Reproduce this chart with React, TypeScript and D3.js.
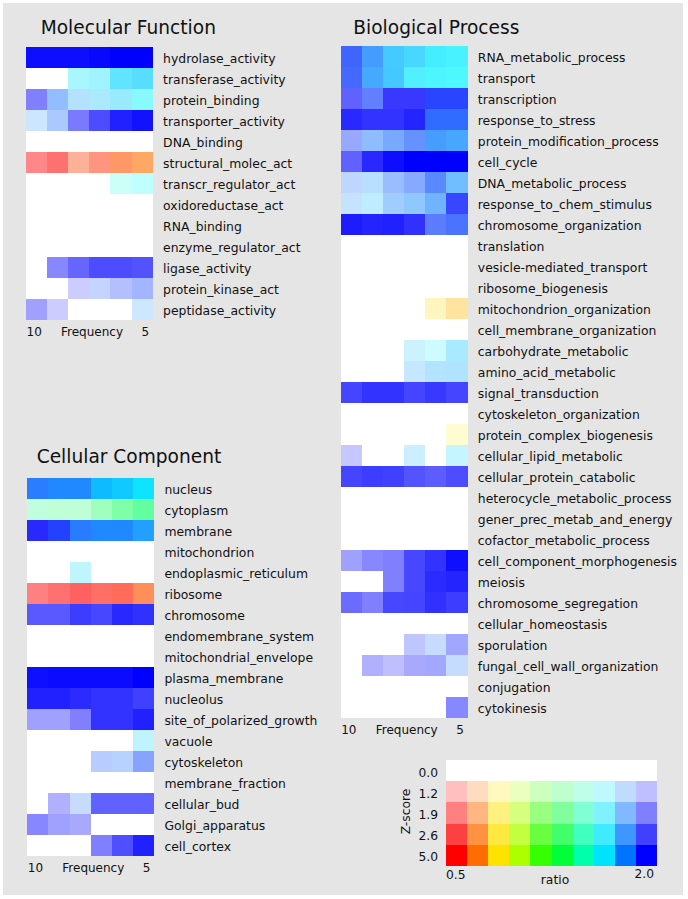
// GO-term enrichment heatmaps with a 2D (ratio x z-score) colour key
import * as d3 from 'd3';

const FONT = 'DejaVu Sans, Verdana, sans-serif';

// frequency columns, left (10) to right (5)
const freqs = [10, 9, 8, 7, 6, 5];

const mfTerms = [
  'hydrolase_activity', 'transferase_activity', 'protein_binding', 'transporter_activity',
  'DNA_binding', 'structural_molec_act', 'transcr_regulator_act', 'oxidoreductase_act',
  'RNA_binding', 'enzyme_regulator_act', 'ligase_activity', 'protein_kinase_act', 'peptidase_activity',
];
const mfRatio = [
  [2, 2, 2, 2, 2, 2],
  [1, 1, 1.46, 1.47, 1.5, 1.52],
  [2, 1.74, 1.62, 1.55, 1.52, 1.44],
  [1.68, 1.77, 2, 2, 2, 2],
  [1, 1, 1, 1, 1, 1],
  [0.5, 0.5, 0.54, 0.53, 0.56, 0.58],
  [1, 1, 1, 1, 1.35, 1.41],
  [1, 1, 1, 1, 1, 1],
  [1, 1, 1, 1, 1, 1],
  [1, 1, 1, 1, 1, 1],
  [2, 2, 2, 2, 2, 2],
  [2, 2, 2, 1.83, 1.89, 1.87],
  [2, 2, 1, 1, 1, 1.66],
];
const mfZ = [
  [4.5, 4.5, 4.5, 4.7, 5, 5],
  [0, 0, 1.45, 1.54, 2.24, 2.32],
  [1.9, 1.7, 1.34, 1.42, 1.62, 1.82],
  [0.96, 1.42, 1.96, 2.46, 3.75, 4.33],
  [0, 0, 0, 0, 0, 0],
  [1.82, 2.07, 1.62, 1.9, 2.18, 2.18],
  [0, 0, 0, 0, 0.96, 1.2],
  [0, 0, 0, 0, 0, 0],
  [0, 0, 0, 0, 0, 0],
  [0, 0, 0, 0, 0, 0],
  [0, 1.82, 2.18, 2.46, 2.46, 2.4],
  [0, 0, 0.96, 1.1, 1.34, 1.51],
  [1.54, 0.96, 0, 0, 0, 0.96],
];

const bpTerms = [
  'RNA_metabolic_process', 'transport', 'transcription', 'response_to_stress',
  'protein_modification_process', 'cell_cycle', 'DNA_metabolic_process', 'response_to_chem_stimulus',
  'chromosome_organization', 'translation', 'vesicle-mediated_transport', 'ribosome_biogenesis',
  'mitochondrion_organization', 'cell_membrane_organization', 'carbohydrate_metabolic', 'amino_acid_metabolic',
  'signal_transduction', 'cytoskeleton_organization', 'protein_complex_biogenesis', 'cellular_lipid_metabolic',
  'cellular_protein_catabolic', 'heterocycle_metabolic_process', 'gener_prec_metab_and_energy',
  'cofactor_metabolic_process', 'cell_component_morphogenesis', 'meiosis', 'chromosome_segregation',
  'cellular_homeostasis', 'sporulation', 'fungal_cell_wall_organization', 'conjugation', 'cytokinesis',
];
const bpRatio = [
  [1.87, 1.7, 1.56, 1.53, 1.46, 1.45],
  [1.87, 1.66, 1.57, 1.46, 1.44, 1.43],
  [2, 1.87, 2, 2, 1.91, 1.91],
  [2, 2, 2, 2, 1.81, 1.81],
  [1.9, 1.74, 1.77, 1.81, 1.7, 1.67],
  [2, 2, 2, 2, 2, 2],
  [1.77, 1.65, 1.77, 1.81, 1.81, 1.66],
  [1.68, 1.57, 1.7, 1.68, 1.7, 1.95],
  [2, 2, 2, 2, 1.87, 1.85],
  [1, 1, 1, 1, 1, 1],
  [1, 1, 1, 1, 1, 1],
  [1, 1, 1, 1, 1, 1],
  [1, 1, 1, 1, 0.67, 0.64],
  [1, 1, 1, 1, 1, 1],
  [1, 1, 1, 1.55, 1.44, 1.54],
  [1, 1, 1, 1.63, 1.6, 1.6],
  [2, 2, 2, 2, 2, 2],
  [1, 1, 1, 1, 1, 1],
  [1, 1, 1, 1, 1, 0.69],
  [2, 1, 1, 1.59, 1, 1.49],
  [2, 2, 2, 2, 2, 2],
  [1, 1, 1, 1, 1, 1],
  [1, 1, 1, 1, 1, 1],
  [1, 1, 1, 1, 1, 1],
  [2, 2, 2, 2, 2, 2],
  [2, 2, 2, 2, 2, 2],
  [2, 2, 2, 2, 2, 2],
  [1, 1, 1, 1, 1, 1],
  [1, 1, 1, 1.93, 1.77, 1.95],
  [2, 2, 2, 2, 1.97, 1.74],
  [1, 1, 1, 1, 1, 1],
  [2, 2, 2, 2, 2, 2],
];
const bpZ = [
  [2.6, 2.55, 2.55, 2.5, 2.55, 2.5],
  [2.54, 2.54, 2.54, 2.4, 2.46, 2.46],
  [2.24, 2.24, 2.89, 2.89, 3.46, 3.46],
  [3.46, 3.08, 3.08, 3.66, 3.18, 3.18],
  [1.62, 1.73, 1.98, 2.18, 2.52, 2.52],
  [2.24, 3.46, 4.5, 5, 5, 5],
  [1.2, 1.28, 1.62, 1.82, 2.32, 2.07],
  [1.1, 1.2, 1.54, 1.73, 2.07, 2.89],
  [3.94, 3.66, 3.75, 3.18, 2.29, 2.49],
  [0, 0, 0, 0, 0, 0],
  [0, 0, 0, 0, 0, 0],
  [0, 0, 0, 0, 0, 0],
  [0, 0, 0, 0, 1.2, 1.54],
  [0, 0, 0, 0, 0, 0],
  [0, 0, 0, 0.96, 0.96, 1.45],
  [0, 0, 0, 1.1, 1.34, 1.37],
  [2.54, 3.08, 3.08, 2.54, 2.89, 2.54],
  [0, 0, 0, 0, 0, 0],
  [0, 0, 0, 0, 0, 0.86],
  [1.06, 0, 0, 0.96, 0, 1.1],
  [2.54, 2.7, 2.6, 2.38, 2.29, 2.46],
  [0, 0, 0, 0, 0, 0],
  [0, 0, 0, 0, 0, 0],
  [0, 0, 0, 0, 0, 0],
  [1.54, 1.82, 1.9, 2.52, 3.08, 4.42],
  [0, 0, 1.9, 2.52, 3.37, 3.66],
  [2.12, 1.9, 2.52, 2.54, 3.18, 2.7],
  [0, 0, 0, 0, 0, 0],
  [0, 0, 0, 1.2, 1.06, 1.54],
  [0, 1.37, 1.2, 1.45, 1.51, 1.1],
  [0, 0, 0, 0, 0, 0],
  [0, 0, 0, 0, 0, 1.82],
];

const ccTerms = [
  'nucleus', 'cytoplasm', 'membrane', 'mitochondrion', 'endoplasmic_reticulum', 'ribosome',
  'chromosome', 'endomembrane_system', 'mitochondrial_envelope', 'plasma_membrane', 'nucleolus',
  'site_of_polarized_growth', 'vacuole', 'cytoskeleton', 'membrane_fraction', 'cellular_bud',
  'Golgi_apparatus', 'cell_cortex',
];
const ccRatio = [
  [1.75, 1.7, 1.7, 1.56, 1.53, 1.47],
  [1.19, 1.14, 1.14, 1.12, 1.12, 1.15],
  [2, 1.91, 1.75, 1.7, 1.7, 1.64],
  [1, 1, 1, 1, 1, 1],
  [1, 1, 1.49, 1, 1, 1],
  [0.5, 0.5, 0.5, 0.51, 0.52, 0.56],
  [2, 2, 2, 2, 2, 2],
  [1, 1, 1, 1, 1, 1],
  [1, 1, 1, 1, 1, 1],
  [2, 2, 2, 2, 2, 2],
  [2, 2, 2, 2, 2, 2],
  [2, 2, 2, 2, 2, 2],
  [1, 1, 1, 1, 1, 1.5],
  [1, 1, 1, 1.81, 1.76, 1.85],
  [1, 1, 1, 1, 1, 1],
  [2, 2, 1.77, 2, 2, 2],
  [2, 2, 2, 1, 1, 1],
  [2, 2, 2, 2, 2, 2],
];
const ccZ = [
  [3.37, 3.75, 3.75, 4.42, 4.42, 4.42],
  [1.2, 1.2, 1.2, 1.54, 1.9, 2.24],
  [3.46, 3.66, 3.46, 3.75, 3.75, 3.75],
  [0, 0, 0, 0, 0, 0],
  [0, 0, 1.2, 0, 0, 0],
  [1.9, 2.07, 2.24, 2.18, 2.32, 2.32],
  [2.32, 2.32, 2.7, 2.52, 3.46, 3.18],
  [0, 0, 0, 0, 0, 0],
  [0, 0, 0, 0, 0, 0],
  [4.42, 4.6, 4.6, 4.6, 4.6, 5],
  [3.75, 3.75, 3.37, 3.08, 3.08, 2.6],
  [1.54, 1.54, 1.9, 3.08, 3.08, 3.75],
  [0, 0, 0, 0, 0, 1.2],
  [0, 0, 0, 1.28, 1.28, 1.82],
  [0, 0, 0, 0, 0, 0],
  [0, 1.37, 1.06, 2.24, 2.24, 2.24],
  [1.82, 1.54, 1.45, 0, 0, 0],
  [0, 0, 0, 1.9, 2.43, 3.75],
];

// colour key
const legendRatios = [0.5, 0.58, 0.68, 0.79, 0.93, 1.08, 1.26, 1.47, 1.71, 2.0];
const legendZ = [0, 1.2, 1.9, 2.6, 5.0];
const legendZLabels = ['0.0', '1.2', '1.9', '2.6', '5.0'];

// ratio -> hue (red .. blue), z-score -> how far from white
const hue = d3.scaleLog().domain([0.5, 2]).range([0, 240]).clamp(true);
const sat = d3.scaleLinear().domain([0, 1.2, 1.9, 2.6, 5]).range([0, 0.25, 0.5, 0.75, 1]).clamp(true);
const cellColor = (r: number, z: number) => d3.hsl(hue(r), 1, 1 - 0.5 * sat(z)).formatHex();

const CW = 21.1;
const RH = 21;

function Panel({ title, terms, ratio, z, x0, y0, tx, ty }: any) {
  const xs = d3.scaleBand<number>().domain(freqs).range([x0, x0 + freqs.length * CW]);
  const ys = d3.scaleBand<string>().domain(terms).range([y0, y0 + terms.length * RH]);
  const right = x0 + freqs.length * CW;
  const bottom = y0 + terms.length * RH;
  return (
    <g>
      <text x={tx} y={ty} fontSize={18.6}>{title}</text>
      <g shapeRendering="crispEdges">
        {terms.map((t: string, i: number) =>
          freqs.map((f, j) => (
            <rect key={t + f} x={xs(f)} y={ys(t)} width={xs.bandwidth() + 0.3} height={ys.bandwidth() + 0.3}
              fill={cellColor(ratio[i][j], z[i][j])} />
          )))}
      </g>
      {terms.map((t: string) => (
        <text key={t} x={right + 10.5} y={ys(t)! + ys.bandwidth() / 2 + 6} fontSize={12.4}>{t}</text>
      ))}
      <text x={xs(10)! + 0.5} y={bottom + 16.5} fontSize={12}>10</text>
      <text x={x0 + 35} y={bottom + 16.5} fontSize={12}>Frequency</text>
      <text x={xs(5)! + 10} y={bottom + 16.5} fontSize={12}>5</text>
    </g>
  );
}

function Legend() {
  const x0 = 446, x1 = 657, y0 = 760, y1 = 866;
  const xs = d3.scaleBand<number>().domain(legendRatios).range([x0, x1]);
  const ys = d3.scaleBand<number>().domain(legendZ).range([y0, y1]);
  return (
    <g>
      <g shapeRendering="crispEdges">
        {legendZ.map(zv => legendRatios.map(r => (
          <rect key={zv + '-' + r} x={xs(r)} y={ys(zv)} width={xs.bandwidth() + 0.3} height={ys.bandwidth() + 0.3}
            fill={cellColor(r, zv)} />
        )))}
      </g>
      {legendZ.map((zv, i) => (
        <text key={zv} x={438} y={ys(zv)! + ys.bandwidth() / 2 + 6} textAnchor="end" fontSize={12.3}>{legendZLabels[i]}</text>
      ))}
      <text transform="translate(410,811.5) rotate(-90)" textAnchor="middle" fontSize={12.3}>Z-score</text>
      <text x={x0} y={879} fontSize={12.3}>0.5</text>
      <text x={x1 - 3} y={878} textAnchor="end" fontSize={12.3}>2.0</text>
      <text x={555} y={884} textAnchor="middle" fontSize={12.3}>ratio</text>
    </g>
  );
}

export default function App() {
  return (
    <svg width={688} height={899} style={{ position: 'absolute', left: 0, top: 0 }}
      fontFamily={FONT} fill="#111">
      <rect x={0} y={0} width={688} height={899} fill="#fff" />
      <rect x={3} y={3} width={680} height={892} fill="#e5e5e5" />
      <Panel title="Molecular Function" terms={mfTerms} ratio={mfRatio} z={mfZ} x0={26} y0={46.7} tx={40.7} ty={34} />
      <Panel title="Biological Process" terms={bpTerms} ratio={bpRatio} z={bpZ} x0={340.7} y0={45.7} tx={353.3} ty={33.5} />
      <Panel title="Cellular Component" terms={ccTerms} ratio={ccRatio} z={ccZ} x0={27.3} y0={477.7} tx={36.7} ty={462.7} />
      <Legend />
    </svg>
  );
}
